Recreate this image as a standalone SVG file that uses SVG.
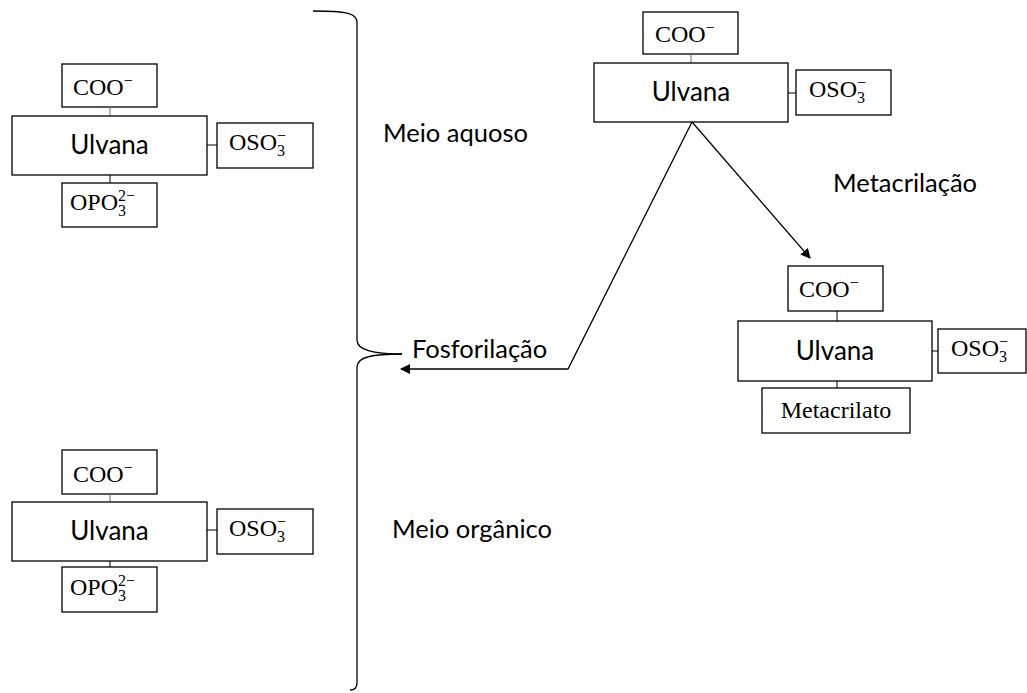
<svg xmlns="http://www.w3.org/2000/svg" width="1027" height="693" viewBox="0 0 1027 693">
  <defs>
    <style>
      .box { fill: #ffffff; stroke: #000000; stroke-width: 1.3; }
      .link { stroke: #000000; stroke-width: 1; fill: none; }
      .link-top { stroke: #4a6fa5; stroke-width: 1; fill: none; }
      .label { font-family: Lato, "Liberation Sans", sans-serif; font-size: 25.5px; fill: #000000; }
      .ulv { font-family: Lato, "Liberation Sans", sans-serif; font-size: 26px; fill: #000000; text-anchor: middle; }
      .chem { font-family: "Liberation Serif", serif; font-size: 24px; fill: #000000; }
      .idx { font-size: 16px; }
      .edge { stroke: #000000; stroke-width: 1.3; fill: none; }
    </style>
    <marker id="arrow" viewBox="0 0 10 10" refX="9" refY="5" markerWidth="10" markerHeight="10" markerUnits="userSpaceOnUse" orient="auto">
      <path d="M0,0 L10,5 L0,10 Z" fill="#000000"/>
    </marker>
  </defs>

  <!-- Ulvana phosphorylated, aqueous medium -->
  <g id="ulvana-aquoso">
    <rect class="box" x="62" y="64" width="95" height="43"/>
    <text class="chem" x="73" y="95">COO<tspan class="idx" dy="-9">−</tspan></text>
    <line class="link-top" x1="110" y1="107" x2="110" y2="116"/>
    <rect class="box" x="12" y="116" width="195" height="59"/>
    <text class="ulv" x="109.5" y="154">Ulvana</text>
    <line class="link" x1="207" y1="145" x2="217" y2="145"/>
    <rect class="box" x="217" y="123" width="96" height="45"/>
    <text class="chem" x="229" y="150">OSO<tspan class="idx" dy="6">3</tspan><tspan class="idx" dx="-8" dy="-15">−</tspan></text>
    <line class="link" x1="110" y1="175" x2="110" y2="183"/>
    <rect class="box" x="62" y="183" width="95" height="44"/>
    <text class="chem" x="70" y="210">OPO<tspan class="idx" dy="6">3</tspan><tspan class="idx" dx="-8" dy="-15">2−</tspan></text>
  </g>

  <!-- Ulvana phosphorylated, organic medium -->
  <g id="ulvana-organico">
    <rect class="box" x="62" y="450" width="95" height="44"/>
    <text class="chem" x="73" y="482">COO<tspan class="idx" dy="-9">−</tspan></text>
    <line class="link-top" x1="110" y1="494" x2="110" y2="502"/>
    <rect class="box" x="12" y="502" width="195" height="59"/>
    <text class="ulv" x="109.5" y="540">Ulvana</text>
    <line class="link" x1="207" y1="530" x2="217" y2="530"/>
    <rect class="box" x="217" y="509" width="96" height="45"/>
    <text class="chem" x="229" y="536">OSO<tspan class="idx" dy="6">3</tspan><tspan class="idx" dx="-8" dy="-15">−</tspan></text>
    <line class="link" x1="110" y1="561" x2="110" y2="567"/>
    <rect class="box" x="62" y="567" width="95" height="45"/>
    <text class="chem" x="70" y="595">OPO<tspan class="idx" dy="6">3</tspan><tspan class="idx" dx="-8" dy="-15">2−</tspan></text>
  </g>

  <!-- Native ulvana -->
  <g id="ulvana">
    <rect class="box" x="643" y="12" width="95" height="42"/>
    <text class="chem" x="655" y="42">COO<tspan class="idx" dy="-9">−</tspan></text>
    <line class="link-top" x1="691" y1="54" x2="691" y2="63"/>
    <rect class="box" x="594" y="63" width="194" height="59"/>
    <text class="ulv" x="691" y="101">Ulvana</text>
    <line class="link" x1="788" y1="93" x2="796" y2="93"/>
    <rect class="box" x="796" y="70" width="95" height="45"/>
    <text class="chem" x="809" y="97">OSO<tspan class="idx" dy="6">3</tspan><tspan class="idx" dx="-8" dy="-15">−</tspan></text>
  </g>

  <!-- Methacrylated ulvana -->
  <g id="ulvana-metacrilato">
    <rect class="box" x="788" y="266" width="95" height="45"/>
    <text class="chem" x="799" y="297">COO<tspan class="idx" dy="-9">−</tspan></text>
    <line class="link" x1="837" y1="311" x2="837" y2="321"/>
    <rect class="box" x="738" y="321" width="194" height="60"/>
    <text class="ulv" x="835" y="360">Ulvana</text>
    <line class="link" x1="932" y1="351" x2="938" y2="351"/>
    <rect class="box" x="938" y="329" width="88" height="44"/>
    <text class="chem" x="951" y="356">OSO<tspan class="idx" dy="6">3</tspan><tspan class="idx" dx="-8" dy="-15">−</tspan></text>
    <line class="link" x1="837" y1="381" x2="837" y2="388"/>
    <rect class="box" x="762" y="388" width="148" height="45"/>
    <text class="chem" x="836" y="418" text-anchor="middle" font-size="25">Metacrilato</text>
  </g>

  <!-- Brace grouping the two phosphorylation media -->
  <g id="chaveta">
    <path class="edge" d="M313,11 C345,11 357,13 357,22 L357,340 C357,350 372,354 402,354"/>
    <path class="edge" d="M402,354 C372,354 357,357 357,367 L357,683 C357,688 355,690 350,690"/>
  </g>

  <!-- Labels -->
  <g id="rotulos">
    <text class="label" x="383" y="142">Meio aquoso</text>
    <text class="label" x="833" y="192">Metacrilação</text>
    <text class="label" x="412" y="358">Fosforilação</text>
    <text class="label" x="392" y="538">Meio orgânico</text>
  </g>

  <!-- Reaction arrows -->
  <g id="conectores">
    <path class="edge" d="M692,122 L810,258" marker-end="url(#arrow)"/>
    <path class="edge" d="M692,122 L568,369 L401,369" marker-end="url(#arrow)"/>
  </g>
</svg>
